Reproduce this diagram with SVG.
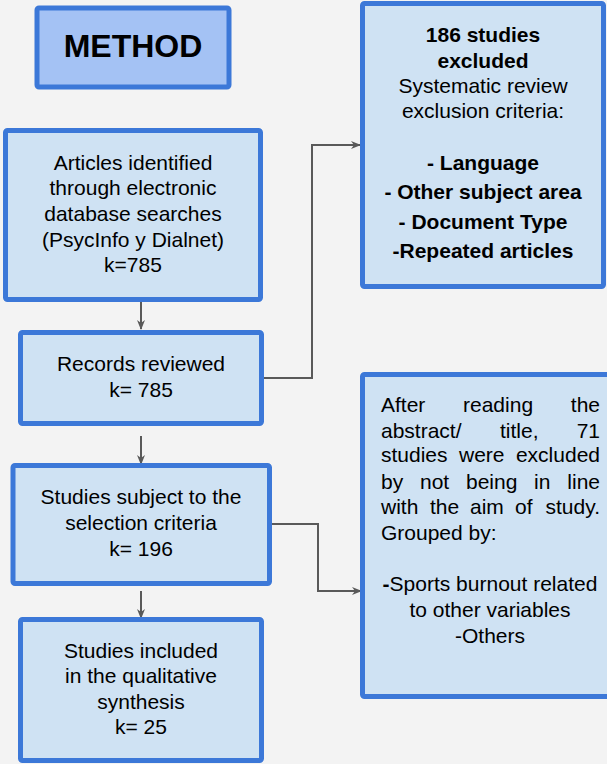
<svg xmlns="http://www.w3.org/2000/svg" width="607" height="764" viewBox="0 0 607 764">
<defs>
<style>
.box{fill:#cfe2f3;stroke:#3c78d8;stroke-width:5}
.title{fill:#a4c2f4;stroke:#3c78d8;stroke-width:5}
text{font-family:"Liberation Sans",Arial,sans-serif;font-size:21px;fill:#000}
.c{text-anchor:middle}
.b{font-weight:bold}
.e{text-anchor:end}
.conn{fill:none;stroke:#595959;stroke-width:2}
</style>
<marker id="arr" viewBox="0 0 10 10" refX="9" refY="5" markerWidth="10" markerHeight="10" markerUnits="userSpaceOnUse" orient="auto">
<path d="M0,1 L10,5 L0,9 L3,5 z" fill="#595959"/>
</marker>
</defs>
<rect x="0" y="0" width="607" height="764" fill="#f3f3f3"/>

<g id="connectors">
<path class="conn" d="M141,302 V329" marker-end="url(#arr)"/>
<path class="conn" d="M141,436 V464" marker-end="url(#arr)"/>
<path class="conn" d="M141,591 V618" marker-end="url(#arr)"/>
<path class="conn" d="M262,378 H312 V145 H360" marker-end="url(#arr)"/>
<path class="conn" d="M270,524 H318 V591 H361" marker-end="url(#arr)"/>
</g>

<g id="method">
<rect class="title" x="37" y="8" width="192" height="79" rx="2"/>
<text class="c b" x="133" y="57" style="font-size:32px">METHOD</text>
</g>

<g id="articles">
<rect class="box" x="5.5" y="130.5" width="255" height="169" rx="2"/>
<text class="c" x="133"><tspan x="133" y="170">Articles identified</tspan><tspan x="133" y="195">through electronic</tspan><tspan x="133" y="221">database searches</tspan><tspan x="133" y="247">(PsycInfo y Dialnet)</tspan><tspan x="133" y="272">k=785</tspan></text>
</g>

<g id="records">
<rect class="box" x="20.5" y="332.5" width="241" height="91" rx="2"/>
<text class="c"><tspan x="141" y="371">Records reviewed</tspan><tspan x="141" y="397">k= 785</tspan></text>
</g>

<g id="selection">
<rect class="box" x="13" y="465.5" width="256.5" height="118" rx="2"/>
<text class="c"><tspan x="141" y="504">Studies subject to the</tspan><tspan x="141" y="530">selection criteria</tspan><tspan x="141" y="556">k= 196</tspan></text>
</g>

<g id="included">
<rect class="box" x="20.5" y="619.5" width="241" height="141" rx="2"/>
<text class="c"><tspan x="141" y="658">Studies included</tspan><tspan x="141" y="683">in the qualitative</tspan><tspan x="141" y="709">synthesis</tspan><tspan x="141" y="734">k= 25</tspan></text>
</g>

<g id="excluded1">
<rect class="box" x="362.5" y="3.5" width="241" height="283" rx="2"/>
<text class="c b"><tspan x="483" y="42">186 studies</tspan><tspan x="483" y="68">excluded</tspan></text>
<text class="c"><tspan x="483" y="93">Systematic review</tspan><tspan x="483" y="118">exclusion criteria:</tspan></text>
<text class="c b"><tspan x="483" y="170">- Language</tspan><tspan x="483" y="199">- Other subject area</tspan><tspan x="483" y="229">- Document Type</tspan><tspan x="483" y="258">-Repeated articles</tspan></text>
</g>

<g id="excluded2">
<rect class="box" x="362.5" y="374.5" width="260" height="322" rx="2"/>
<text x="381" y="412">After</text><text x="463" y="412">reading</text><text class="e" x="600" y="412">the</text>
<text x="381" y="438">abstract/</text><text x="500" y="438">title,</text><text class="e" x="600" y="438">71</text>
<text x="381" y="462">studies</text><text x="459" y="462">were</text><text class="e" x="600" y="462">excluded</text>
<text x="381" y="489">by</text><text x="420" y="489">not</text><text x="466" y="489">being</text><text x="534" y="489">in</text><text class="e" x="600" y="489">line</text>
<text x="381" y="514">with</text><text x="430" y="514">the</text><text x="470" y="514">aim</text><text x="515" y="514">of</text><text class="e" x="600" y="514">study.</text>
<text x="381" y="540">Grouped by:</text>
<text class="c"><tspan x="490" y="591"><tspan class="b">-</tspan>Sports burnout related</tspan><tspan x="490" y="617">to other variables</tspan><tspan x="490" y="643">-Others</tspan></text>
</g>
</svg>
